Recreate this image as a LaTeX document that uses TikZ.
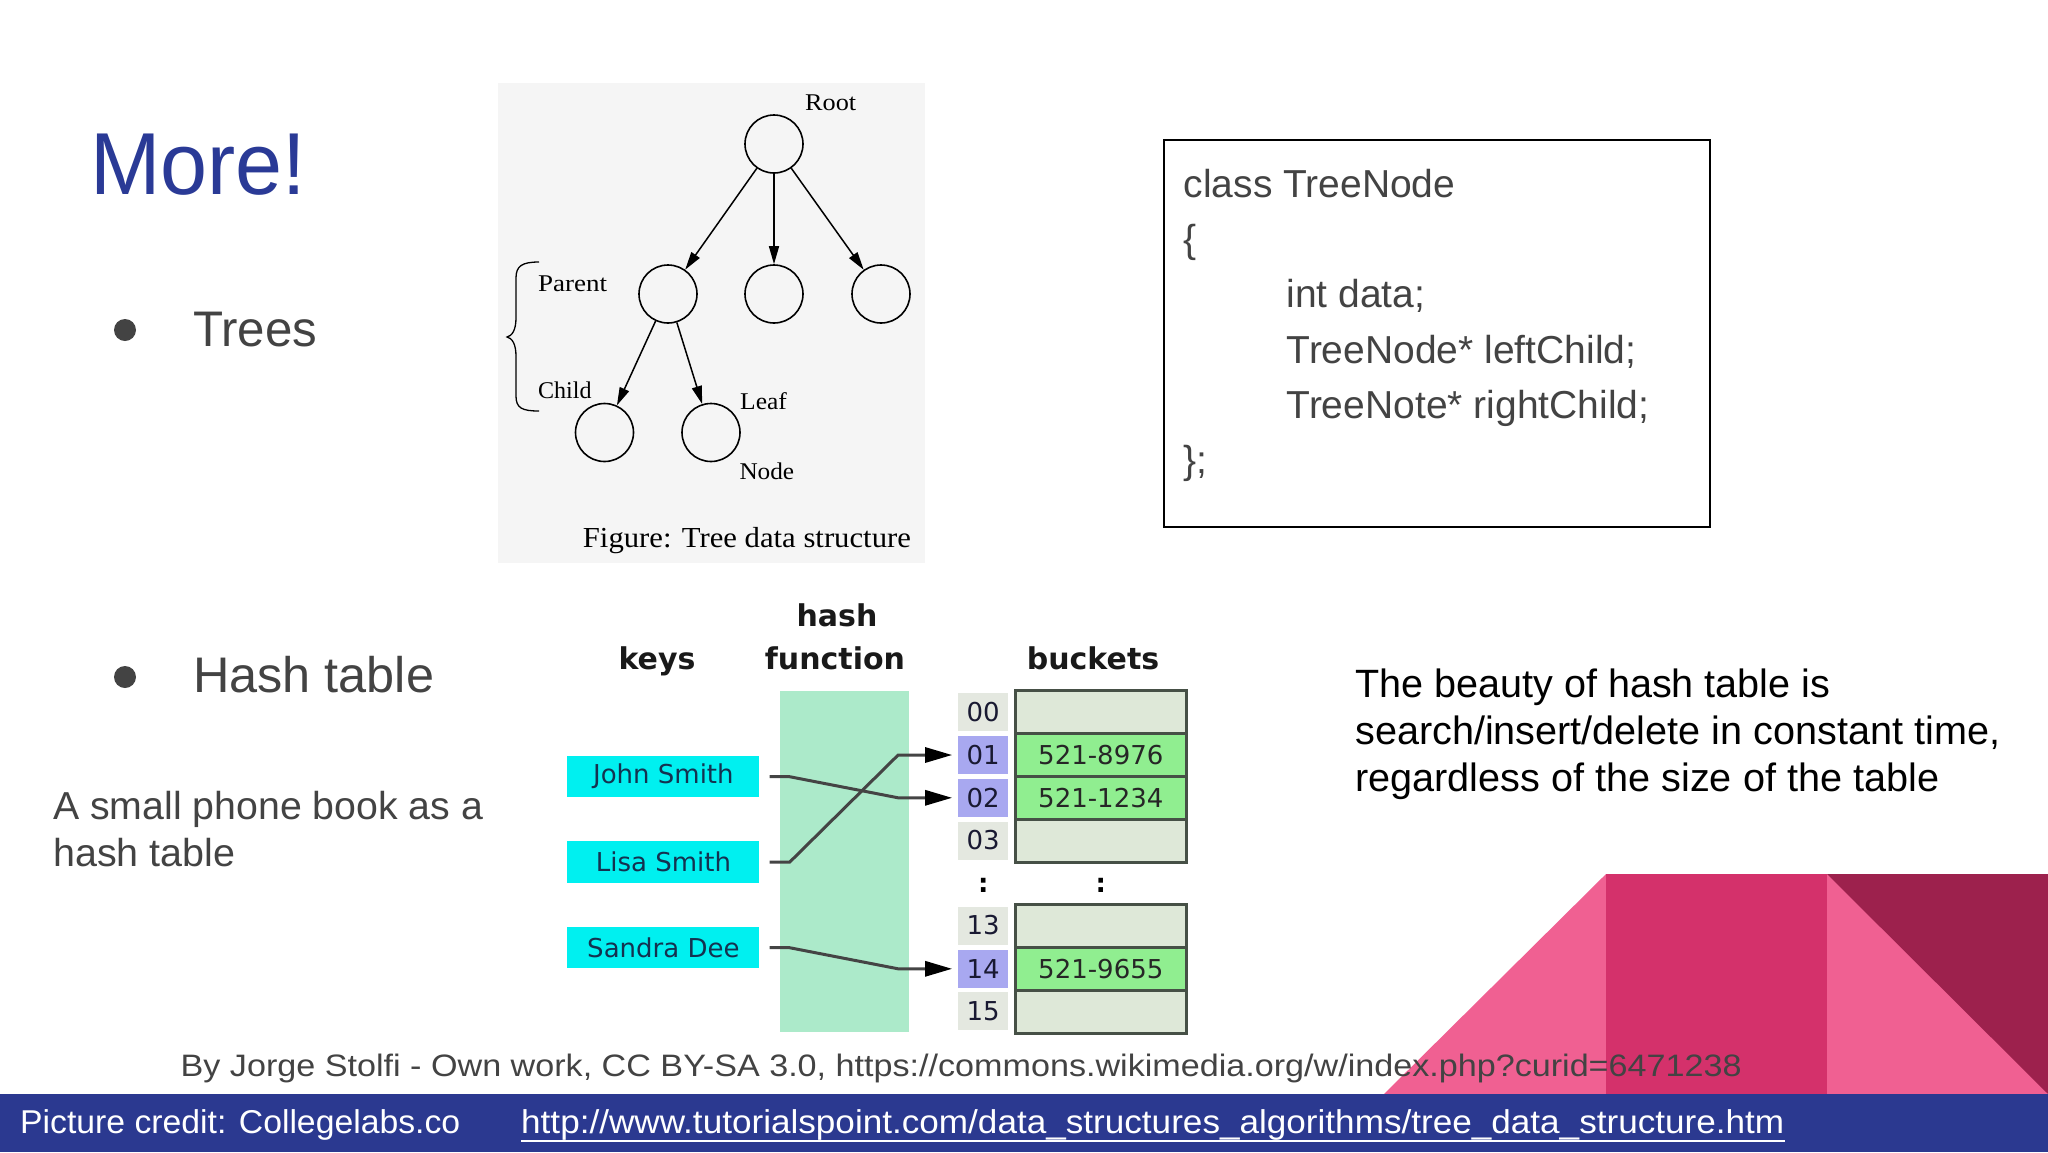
\documentclass[tikz,border=0pt]{standalone}
\usepackage{fontspec}
\usepackage{graphicx}
\setmainfont{Liberation Sans}
\newfontfamily\tserif{Liberation Serif}
\newfontfamily\dvs{DejaVu Sans}
\usetikzlibrary{arrows.meta}
\newcommand\fitto[2]{\resizebox{#1}{\height}{#2}}
\newcommand\fs[1]{\fontsize{#1}{#1}\selectfont}
\definecolor{titleblue}{RGB}{42,58,150}
\definecolor{barblue}{RGB}{43,57,144}
\definecolor{txtgray}{RGB}{67,67,67}
\definecolor{pinkL}{RGB}{240,96,146}
\definecolor{pinkM}{RGB}{212,49,107}
\definecolor{pinkD}{RGB}{157,33,77}
\definecolor{treebg}{RGB}{245,245,245}
\definecolor{hashgreen}{RGB}{172,234,202}
\definecolor{keycyan}{RGB}{0,240,240}
\definecolor{keytext}{RGB}{20,50,80}
\definecolor{idxgray}{RGB}{228,232,224}
\definecolor{idxpurple}{RGB}{168,168,240}
\definecolor{idxtext}{RGB}{25,25,50}
\definecolor{bkempty}{RGB}{222,232,216}
\definecolor{bkfull}{RGB}{144,238,144}
\definecolor{bkline}{RGB}{70,80,70}
\definecolor{hlinecol}{RGB}{68,68,68}
\tikzset{
  txt/.style={anchor=base west, inner sep=0pt},
  tcirc/.style={circle, draw=black, line width=1.6pt, minimum size=58pt, inner sep=0pt},
  tarrow/.style={line width=1.5pt, -{Triangle[length=18pt,width=10pt]}},
  keybox/.style={fill=keycyan, minimum width=192pt, minimum height=41.6pt, inner sep=0pt, text=keytext, font=\dvs\fs{26}},
  idxcell/.style={minimum width=49.7pt, minimum height=38pt, inner sep=0pt, text=idxtext, font=\dvs\fs{26}},
  bkrow/.style={draw=bkline, line width=3pt, minimum width=171.2pt, minimum height=43.2pt, inner sep=0pt, text=black!85, font=\dvs\fs{26}},
  hl/.style={draw=hlinecol, line width=3pt, -{Triangle[length=27pt,width=15pt,color=black]}},
  hhead/.style={anchor=base, inner sep=0pt, font=\dvs\bfseries\fs{30}, text=black!90},
}
\begin{document}
\begin{tikzpicture}[x=1pt,y=-1pt]
\useasboundingbox (0,0) rectangle (2048,1152);
\fill[white] (0,0) rectangle (2048,1152);

% decorative shapes
\fill[pinkL] (1384,1094) -- (1606,874) -- (2048,874) -- (2048,1094) -- cycle;
\fill[pinkM] (1606,874) rectangle (1827,1094);
\fill[pinkD] (1827,874) -- (2048,874) -- (2048,1094) -- cycle;
\fill[barblue] (0,1093.5) rectangle (2048,1152);

% title and bullets
\node[txt, text=titleblue] (title) at (90,194) {\fs{88}\fitto{216pt}{More!}};
\node[circle, fill=txtgray, minimum size=22pt, inner sep=0pt] (b1) at (125,330) {};
\node[circle, fill=txtgray, minimum size=22pt, inner sep=0pt] (b2) at (125,677) {};
\node[txt, text=txtgray] (trees) at (193,346) {\fs{50}\fitto{124pt}{Trees}};
\node[txt, text=txtgray] (hasht) at (193,692.5) {\fs{50}\fitto{241pt}{Hash table}};
\node[txt, text=txtgray] (pb1) at (53,819.5) {\fs{39}\fitto{430pt}{A small phone book as a}};
\node[txt, text=txtgray] (pb2) at (53,866.5) {\fs{39}\fitto{182pt}{hash table}};

% tree figure
\fill[treebg] (498,83) rectangle (925,563);
\node[tcirc] (root) at (774,144) {};
\node[tcirc] (par) at (668,294) {};
\node[tcirc] (mid) at (774,294) {};
\node[tcirc] (rgt) at (881,294) {};
\node[tcirc] (chl) at (604.5,432.5) {};
\node[tcirc] (leaf) at (711,432.5) {};
\draw[tarrow] (root) -- (par);
\draw[tarrow] (root) -- (mid);
\draw[tarrow] (root) -- (rgt);
\draw[tarrow] (par) -- (chl);
\draw[tarrow] (par) -- (leaf);
\node[txt] (lroot) at (805,110) {\tserif\fs{24}\fitto{51pt}{Root}};
\node[txt] (lpar) at (538,291) {\tserif\fs{24}\fitto{69pt}{Parent}};
\node[txt] (lchl) at (538,398.3) {\tserif\fs{24}\fitto{53.4pt}{Child}};
\node[txt] (lleaf) at (740,409) {\tserif\fs{24}\fitto{46.7pt}{Leaf}};
\node[txt] (lnode) at (739.3,479) {\tserif\fs{24}\fitto{54.7pt}{Node}};
\node[txt] (fig) at (582.7,547.3) {\tserif\fs{29}\fitto{328pt}{Figure: Tree data structure}};
\draw[line width=1.3pt] (539,262) .. controls (522,262) and (516,266) .. (516,278)
  -- (516,318) .. controls (516,330) and (512,336) .. (507,337)
  .. controls (512,338) and (516,344) .. (516,356)
  -- (516,396) .. controls (516,408) and (522,411) .. (539,411);

% code box
\node[draw=black, line width=2pt, minimum width=546pt, minimum height=387pt, inner sep=0pt] (codebox) at (1437,333.5) {};
\node[txt, text=txtgray] (c1) at (1183.5,197) {\fs{39}class TreeNode};
\node[txt, text=txtgray] (c2) at (1183.5,252.5) {\fs{39}\{};
\node[txt, text=txtgray] (c3) at (1286.4,307.5) {\fs{39}int data;};
\node[txt, text=txtgray] (c4) at (1286.4,363.3) {\fs{39}TreeNode* leftChild;};
\node[txt, text=txtgray] (c5) at (1286.4,418.3) {\fs{39}TreeNote* rightChild;};
\node[txt, text=txtgray] (c6) at (1183.5,473.5) {\fs{39}\};};

% hash table figure
\node[hhead] (hh1) at (837,626) {hash};
\node[hhead] (hh2) at (835,669.3) {function};
\node[hhead] (hkeys) at (657,669.3) {keys};
\node[hhead] (hbk) at (1093,669.3) {buckets};
\node[fill=hashgreen, minimum width=128.5pt, minimum height=340.7pt, inner sep=0pt] (hf) at (844.35,861.35) {};
\node[keybox] (john) at (663.4,776.5) {John Smith};
\node[keybox] (lisa) at (663.4,862.2) {Lisa Smith};
\node[keybox] (sandra) at (663.4,947.5) {Sandra Dee};
\node[idxcell, fill=idxgray] (i00) at (983.2,712) {00};
\node[idxcell, fill=idxpurple] (i01) at (983.2,755) {01};
\node[idxcell, fill=idxpurple] (i02) at (983.2,797.8) {02};
\node[idxcell, fill=idxgray] (i03) at (983.2,840.5) {03};
\node[idxcell, fill=idxgray] (i13) at (983.2,925.5) {13};
\node[idxcell, fill=idxpurple] (i14) at (983.2,968.8) {14};
\node[idxcell, fill=idxgray] (i15) at (983.2,1011.2) {15};
\node[bkrow, fill=bkempty] (k00) at (1100.8,711.6) {};
\node[bkrow, fill=bkfull] (k01) at (1100.8,754.8) {521-8976};
\node[bkrow, fill=bkfull] (k02) at (1100.8,798) {521-1234};
\node[bkrow, fill=bkempty] (k03) at (1100.8,841.2) {};
\node[bkrow, fill=bkempty] (k13) at (1100.8,925.8) {};
\node[bkrow, fill=bkfull] (k14) at (1100.8,968.8) {521-9655};
\node[bkrow, fill=bkempty] (k15) at (1100.8,1011.8) {};
\node[inner sep=0pt, font=\dvs\bfseries\fs{26}] (col1) at (983.2,885) {:};
\node[inner sep=0pt, font=\dvs\bfseries\fs{26}] (col2) at (1100.8,885) {:};
\draw[hl] ([xshift=10pt]john.east) -- ++(19,0) -- ([xshift=-60pt]i02.west) -- ([xshift=-6pt]i02.west);
\draw[hl] ([xshift=10pt]lisa.east) -- ++(20,0) -- ([xshift=-60pt]i01.west) -- ([xshift=-6pt]i01.west);
\draw[hl] ([xshift=10pt]sandra.east) -- ++(19,0) -- ([xshift=-60pt]i14.west) -- ([xshift=-6pt]i14.west);

% right text
\node[txt, text=black] (r1) at (1355,697.3) {\fs{39.5}\fitto{475pt}{The beauty of hash table is}};
\node[txt, text=black] (r2) at (1355,744) {\fs{39.5}\fitto{645pt}{search/insert/delete in constant time,}};
\node[txt, text=black] (r3) at (1355,791) {\fs{39.5}\fitto{584pt}{regardless of the size of the table}};

% credits
\node[txt, text=txtgray] (credit) at (180.5,1076.7) {\fs{31}\fitto{1561pt}{By Jorge Stolfi - Own work, CC BY-SA 3.0, https://commons.wikimedia.org/w/index.php?curid=6471238}};
\node[txt, text=white] (pc) at (20,1133.3) {\fs{33}\fitto{440pt}{Picture credit: Collegelabs.co}};
\node[txt, text=white] (url) at (521,1133.3) {\fs{33}\fitto{1263pt}{http://www.tutorialspoint.com/data\_structures\_algorithms/tree\_data\_structure.htm}};
\draw[white, line width=2pt] ([yshift=-8pt]url.base west) -- ([yshift=-8pt]url.base east);
\end{tikzpicture}
\end{document}
